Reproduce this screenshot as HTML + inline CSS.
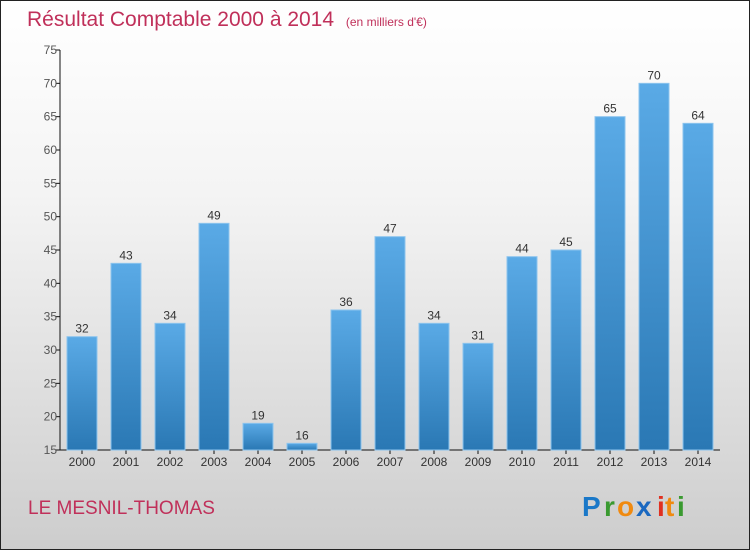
<!DOCTYPE html>
<html><head><meta charset="utf-8"><style>
body{margin:0}
#c{width:750px;height:550px;position:relative;font-family:"Liberation Sans",sans-serif}
</style></head><body>
<div id="c">
<svg width="750" height="550">
<defs>
<linearGradient id="bg" x1="0" y1="0" x2="0" y2="1"><stop offset="0" stop-color="#ffffff"/><stop offset="0.35" stop-color="#f4f4f4"/><stop offset="1" stop-color="#cdcdcd"/></linearGradient>
<linearGradient id="bar" x1="0" y1="0" x2="0" y2="1"><stop offset="0" stop-color="#5aaae6"/><stop offset="1" stop-color="#2a78b4"/></linearGradient>
</defs>
<rect x="0.5" y="0.5" width="749" height="549" fill="url(#bg)" stroke="#222"/>
<text x="27" y="26" font-size="21" fill="#c0305a">Résultat Comptable 2000 à 2014 <tspan font-size="12" dx="6">(en milliers d'€)</tspan></text>
<g id="axes"></g>
<g id="bars"></g>
<text x="28" y="514" font-size="19" fill="#c0305a">LE MESNIL-THOMAS</text>
<g font-size="28" font-weight="bold">
<text x="582" y="516" fill="#1a78c8">P</text><text x="604" y="516" fill="#3a9a30">r</text><text x="617" y="516" fill="#f08a10">o</text><text x="636" y="516" fill="#1a68c0">x</text><text x="657" y="516" fill="#e03020">i</text><text x="665" y="516" fill="#f08a10">t</text><text x="677" y="516" fill="#3a9a30">i</text>
</g>
</svg></div>
<script>
const years=["2000","2001","2002","2003","2004","2005","2006","2007","2008","2009","2010","2011","2012","2013","2014"];
const values=[32,43,34,49,19,16,36,47,34,31,44,45,65,70,64];
const yTicks=[15,20,25,30,35,40,45,50,55,60,65,70,75];
const NS="http://www.w3.org/2000/svg";
const x0=60,x1=720,yTop=50,yBot=450,vMin=15,vMax=75;
const band=(x1-x0)/years.length;
const y=v=>yBot-(v-vMin)/(vMax-vMin)*(yBot-yTop);
const xc=i=>x0+band*(i+0.5);
function mk(t,a,p){const e=document.createElementNS(NS,t);for(const k in a)e.setAttribute(k,a[k]);p.appendChild(e);return e;}
const ax=document.getElementById('axes'),bg=document.getElementById('bars');
let l=mk('line',{x1:x0,y1:yTop,x2:x0,y2:yBot,stroke:'#111'},ax);


l=mk('line',{x1:x0,y1:yBot,x2:x1,y2:yBot,stroke:'#111'},ax);


yTicks.forEach(v=>{
 const t=mk('line',{x1:x0-4,y1:y(v),x2:x0,y2:y(v),stroke:'#111'},ax);
 
 
 const tx=mk('text',{x:x0-3,y:y(v)+4,'font-size':12,fill:'#555','text-anchor':'end'},ax);
 tx.textContent=v;
 
 
});
years.forEach((yr,i)=>{
 const v=values[i],w=30;
 const r=mk('rect',{x:xc(i)-w/2,y:y(v),width:w,height:yBot-y(v),fill:'url(#bar)',stroke:'#8cc4ee','stroke-width':1},bg);
 
 
 const t=mk('text',{x:xc(i),y:y(v)-4,'font-size':12,fill:'#333','text-anchor':'middle'},bg);
 t.textContent=v;
 
 
 const tk=mk('line',{x1:xc(i),y1:yBot,x2:xc(i),y2:yBot+4,stroke:'#111'},ax);
 
 
 const xl=mk('text',{x:xc(i),y:yBot+16,'font-size':12,fill:'#333','text-anchor':'middle'},ax);
 xl.textContent=yr;
 
 
});
</script>
</body></html>
